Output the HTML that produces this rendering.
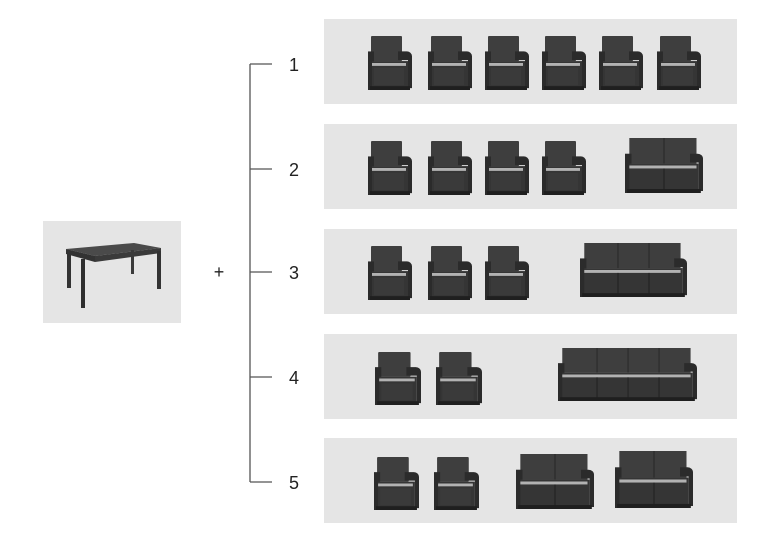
<!DOCTYPE html>
<html><head><meta charset="utf-8"><style>
html,body{margin:0;padding:0;background:#fff;}
svg{display:block;}
text{font-family:"Liberation Sans",sans-serif;}
</style></head><body>
<svg width="768" height="543" viewBox="0 0 768 543" xmlns="http://www.w3.org/2000/svg">
<defs>
<symbol id="ch" viewBox="0 0 44 56" preserveAspectRatio="none">
 <rect x="3" y="0" width="31" height="26" rx="1" fill="#3e3e3e"/>
 <path d="M30 16 h9 a5 5 0 0 1 5 5 v33 h-4 v-29 h-10z" fill="#2b2b2b"/>
 <rect x="0" y="16" width="6" height="40" fill="#2b2b2b"/>
 <rect x="4" y="26" width="36" height="28" fill="#353535"/>
 <rect x="4" y="28" width="34" height="3" fill="#b2b2b2"/>
 <rect x="6" y="33" width="30" height="18" fill="#3a3a3a"/>
 <rect x="2" y="52" width="40" height="4" fill="#1f1f1f"/>
</symbol>
<symbol id="s2" viewBox="0 0 72 56" preserveAspectRatio="none">
 <rect x="4" y="0" width="62" height="26" fill="#3e3e3e"/>
 <rect x="35.5" y="0" width="1" height="26" fill="#2a2a2a"/>
 <path d="M60 16 h7 a5 5 0 0 1 5 5 v33 h-4 v-29 h-8z" fill="#2b2b2b"/>
 <rect x="0" y="16" width="6" height="40" fill="#2b2b2b"/>
 <rect x="4" y="26" width="64" height="28" fill="#353535"/>
 <rect x="4" y="28" width="62" height="3" fill="#b2b2b2"/>
 <rect x="35.5" y="31" width="1" height="23" fill="#222"/>
 <rect x="2" y="52" width="68" height="4" fill="#1f1f1f"/>
</symbol>
<symbol id="s3" viewBox="0 0 100 56" preserveAspectRatio="none">
 <rect x="4" y="0" width="90" height="26" fill="#3e3e3e"/>
 <rect x="35" y="0" width="1" height="26" fill="#2a2a2a"/>
 <rect x="64" y="0" width="1" height="26" fill="#2a2a2a"/>
 <path d="M88 16 h7 a5 5 0 0 1 5 5 v33 h-4 v-29 h-8z" fill="#2b2b2b"/>
 <rect x="0" y="16" width="6" height="40" fill="#2b2b2b"/>
 <rect x="4" y="26" width="92" height="28" fill="#353535"/>
 <rect x="4" y="28" width="90" height="3" fill="#b2b2b2"/>
 <rect x="35" y="31" width="1" height="23" fill="#222"/>
 <rect x="64" y="31" width="1" height="23" fill="#222"/>
 <rect x="2" y="52" width="96" height="4" fill="#1f1f1f"/>
</symbol>
<symbol id="s4" viewBox="0 0 130 56" preserveAspectRatio="none">
 <rect x="4" y="0" width="120" height="26" fill="#3e3e3e"/>
 <rect x="36" y="0" width="1" height="26" fill="#2a2a2a"/>
 <rect x="65" y="0" width="1" height="26" fill="#2a2a2a"/>
 <rect x="94" y="0" width="1" height="26" fill="#2a2a2a"/>
 <path d="M118 16 h7 a5 5 0 0 1 5 5 v33 h-4 v-29 h-8z" fill="#2b2b2b"/>
 <rect x="0" y="16" width="6" height="40" fill="#2b2b2b"/>
 <rect x="4" y="26" width="122" height="28" fill="#353535"/>
 <rect x="4" y="28" width="120" height="3" fill="#b2b2b2"/>
 <rect x="36" y="31" width="1" height="23" fill="#222"/>
 <rect x="65" y="31" width="1" height="23" fill="#222"/>
 <rect x="94" y="31" width="1" height="23" fill="#222"/>
 <rect x="2" y="52" width="126" height="4" fill="#1f1f1f"/>
</symbol>
</defs>

<rect x="43" y="221" width="138" height="102" fill="#e5e5e5"/>
<polygon points="66,249 134,243 161,248 95,256" fill="#4a4a4a"/>
<polygon points="66,249 95,256 95,262 66,254" fill="#333"/>
<polygon points="95,256 161,248 161,253 95,262" fill="#3a3a3a"/>
<rect x="67" y="252" width="4" height="36" fill="#333"/>
<rect x="81" y="259" width="4" height="49" fill="#2e2e2e"/>
<rect x="157" y="251" width="4" height="38" fill="#333"/>
<rect x="131" y="250" width="3" height="24" fill="#3a3a3a"/>

<text x="219" y="278" font-size="18" text-anchor="middle" fill="#222">+</text>

<g stroke="#555" stroke-width="1.3" fill="none">
 <line x1="250" y1="64" x2="250" y2="482"/>
 <line x1="250" y1="64" x2="272" y2="64"/>
 <line x1="250" y1="169" x2="272" y2="169"/>
 <line x1="250" y1="272" x2="272" y2="272"/>
 <line x1="250" y1="377" x2="272" y2="377"/>
 <line x1="250" y1="482" x2="272" y2="482"/>
</g>
<g font-size="18" fill="#222">
 <text x="289" y="71">1</text>
 <text x="289" y="176">2</text>
 <text x="289" y="279">3</text>
 <text x="289" y="384">4</text>
 <text x="289" y="489">5</text>
</g>

<g fill="#e5e5e5">
 <rect x="324" y="19" width="413" height="85"/>
 <rect x="324" y="124" width="413" height="85"/>
 <rect x="324" y="229" width="413" height="85"/>
 <rect x="324" y="334" width="413" height="85"/>
 <rect x="324" y="438" width="413" height="85"/>
</g>

<use href="#ch" x="368" y="36" width="44" height="54"/>
<use href="#ch" x="428" y="36" width="44" height="54"/>
<use href="#ch" x="485" y="36" width="44" height="54"/>
<use href="#ch" x="542" y="36" width="44" height="54"/>
<use href="#ch" x="599" y="36" width="44" height="54"/>
<use href="#ch" x="657" y="36" width="44" height="54"/>
<use href="#ch" x="368" y="141" width="44" height="54"/>
<use href="#ch" x="428" y="141" width="44" height="54"/>
<use href="#ch" x="485" y="141" width="44" height="54"/>
<use href="#ch" x="542" y="141" width="44" height="54"/>
<use href="#s2" x="625" y="138" width="78" height="55"/>
<use href="#ch" x="368" y="246" width="44" height="54"/>
<use href="#ch" x="428" y="246" width="44" height="54"/>
<use href="#ch" x="485" y="246" width="44" height="54"/>
<use href="#s3" x="580" y="243" width="107" height="54"/>
<use href="#ch" x="375" y="352" width="46" height="53"/>
<use href="#ch" x="436" y="352" width="46" height="53"/>
<use href="#s4" x="558" y="348" width="139" height="53"/>
<use href="#ch" x="374" y="457" width="45" height="53"/>
<use href="#ch" x="434" y="457" width="45" height="53"/>
<use href="#s2" x="516" y="454" width="78" height="55"/>
<use href="#s2" x="615" y="451" width="78" height="57"/>
</svg>
</body></html>
